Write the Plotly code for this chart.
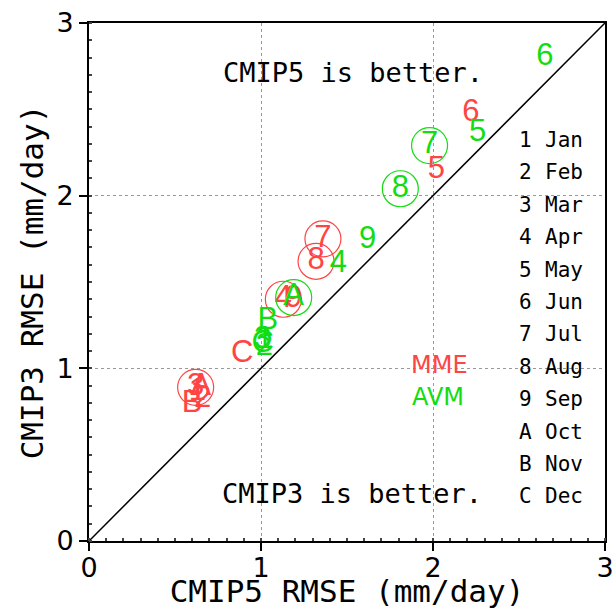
import plotly.graph_objects as go

# ---- data ----
labels = ["1", "2", "3", "4", "5", "6", "7", "8", "9", "A", "B", "C"]
months = ["Jan", "Feb", "Mar", "Apr", "May", "Jun", "Jul", "Aug", "Sep", "Oct", "Nov", "Dec"]

mme_x = [0.63, 0.66, 0.62, 1.13, 2.02, 2.22, 1.36, 1.32, 1.19, 0.65, 0.60, 0.89]
mme_y = [0.86, 0.82, 0.89, 1.40, 2.15, 2.48, 1.75, 1.62, 1.40, 0.89, 0.79, 1.08]
mme_sig = [False, False, True, True, False, False, True, True, False, False, False, False]

avm_x = [1.02, 1.02, 1.01, 1.45, 2.26, 2.65, 1.98, 1.81, 1.62, 1.19, 1.04, 1.01]
avm_y = [1.16, 1.12, 1.16, 1.60, 2.36, 2.80, 2.29, 2.04, 1.74, 1.41, 1.27, 1.14]
avm_sig = [False, False, False, False, False, False, True, True, False, True, False, False]

diag = [0, 3]

RED = "#FF4444"
GREEN = "#11DD11"
FONT = "DejaVu Sans"
MONO = "DejaVu Sans Mono"

fig = go.Figure()

fig.add_trace(go.Scatter(x=diag, y=diag, mode="lines",
                         line=dict(color="black", width=1.5), hoverinfo="skip"))

for xs, ys, sig, col in [(mme_x, mme_y, mme_sig, RED), (avm_x, avm_y, avm_sig, GREEN)]:
    cx = [x for x, s in zip(xs, sig) if s]
    cy = [y for y, s in zip(ys, sig) if s]
    fig.add_trace(go.Scatter(x=cx, y=cy, mode="markers",
                             marker=dict(symbol="circle-open", size=36,
                                         color=col, line=dict(width=1.2, color=col))))
    fig.add_trace(go.Scatter(x=xs, y=ys, mode="text", text=labels,
                             textposition="middle center",
                             textfont=dict(family="Liberation Sans", size=31, color=col)))

ann = []
# month legend
for i, (lab, mon) in enumerate(zip(labels, months)):
    py = 140 + 32.4 * i
    yp = (541 - py) / 518
    ann.append(dict(x=0.829, y=yp, xref="paper", yref="paper", text=lab, showarrow=False,
                    xanchor="left", yanchor="middle", font=dict(family=MONO, size=21, color="black")))
    ann.append(dict(x=0.880, y=yp, xref="paper", yref="paper", text=mon, showarrow=False,
                    xanchor="left", yanchor="middle", font=dict(family=MONO, size=21, color="black")))

def center_ann(x, y, text, size, color, family):
    return dict(x=x, y=y, xref="paper", yref="paper", text=text, showarrow=False,
                xanchor="center", yanchor="middle",
                font=dict(family=family, size=size, color=color))

ann.append(center_ann(0.512, 0.905, "CMIP5 is better.", 27, "black", MONO))
ann.append(center_ann(0.510, 0.091, "CMIP3 is better.", 27, "black", MONO))
ann.append(center_ann(0.680, 0.340, "MME", 24, RED, FONT))
ann.append(center_ann(0.676, 0.278, "AVM", 24, GREEN, FONT))

axis_common = dict(range=[0, 3], dtick=1, tick0=0, showline=True, linecolor="black",
                   linewidth=2, mirror=True, ticks="outside", ticklen=8, tickwidth=2,
                   tickcolor="black", showgrid=True, gridcolor="#999999", griddash="dot",
                   gridwidth=1, zeroline=False, automargin=False,
                   tickfont=dict(family=FONT, size=27, color="black"),
                   minor=dict(ticks="inside", ticklen=3, dtick=0.1, tickcolor="#444444",
                              showgrid=False))

fig.update_layout(
    width=614, height=609,
    margin=dict(l=89, r=9, t=23, b=68),
    plot_bgcolor="white", paper_bgcolor="white",
    showlegend=False,
    annotations=ann,
    xaxis=dict(**axis_common, ticklabelstandoff=-6,
               title=dict(text="CMIP5 RMSE (mm/day)", standoff=2,
                          font=dict(family=MONO, size=31, color="black"))),
    yaxis=dict(**axis_common,
               title=dict(text="CMIP3 RMSE (mm/day)", standoff=4,
                          font=dict(family=MONO, size=31, color="black"))),
)

fig.write_html("out.html")
